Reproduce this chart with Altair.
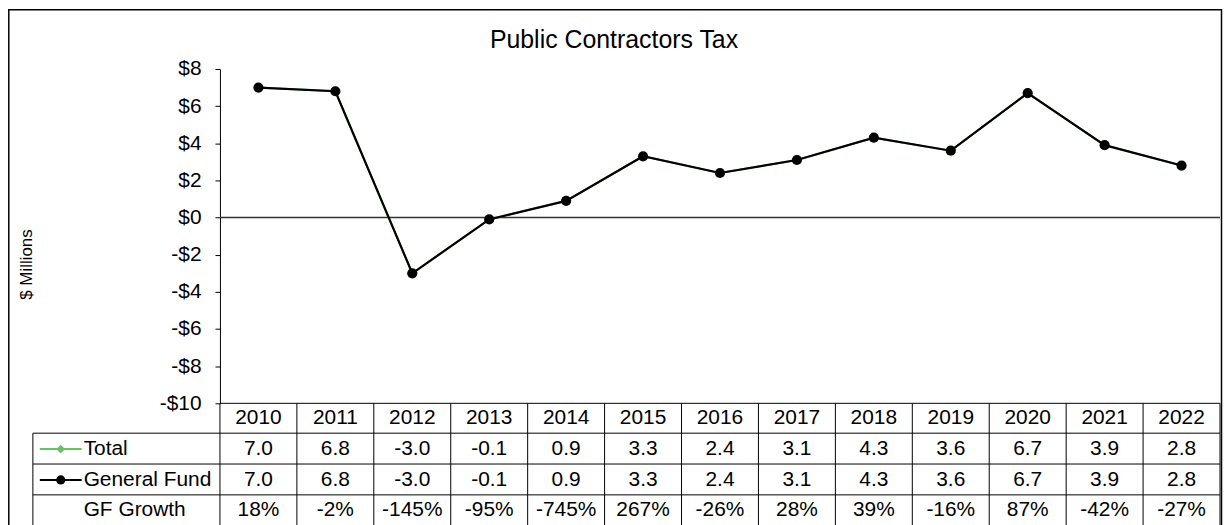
import altair as alt
import pandas as pd

# ---- data ----
years = [2010, 2011, 2012, 2013, 2014, 2015, 2016, 2017, 2018, 2019, 2020, 2021, 2022]
total = [7.0, 6.8, -3.0, -0.1, 0.9, 3.3, 2.4, 3.1, 4.3, 3.6, 6.7, 3.9, 2.8]
general_fund = [7.0, 6.8, -3.0, -0.1, 0.9, 3.3, 2.4, 3.1, 4.3, 3.6, 6.7, 3.9, 2.8]
gf_growth = ["18%", "-2%", "-145%", "-95%", "-745%", "267%", "-26%", "28%",
             "39%", "-16%", "87%", "-42%", "-27%"]
row_labels = ["Total", "General Fund", "GF Growth"]
y_ticks = [-10, -8, -6, -4, -2, 0, 2, 4, 6, 8]
chart_title = "Public Contractors Tax"

FONT = "Liberation Sans"
GREEN = "#6cbf6a"
FS = 21
W, H = 1005, 336

df = pd.DataFrame({
    "idx": list(range(len(years))),
    "year": [str(y) for y in years],
    "total": total,
    "gf": general_fund,
    "total_txt": [f"{v:.1f}" for v in total],
    "gf_txt": [f"{v:.1f}" for v in general_fund],
    "growth": gf_growth,
})
bounds = pd.DataFrame({"b": [i - 0.5 for i in range(len(years) + 1)]})
one = pd.DataFrame({"k": [0]})

xs = alt.Scale(domain=[-0.5, len(years) - 0.5], nice=False, zero=False)
ys = alt.Scale(domain=[-10, 8], nice=False, zero=False)
X = alt.X("idx:Q", scale=xs, axis=None)

base = alt.Chart(df)

yaxis = alt.Axis(
    values=y_ticks,
    labelExpr="datum.value < 0 ? '-$' + abs(datum.value) : '$' + datum.value",
    labelOverlap=False,
    grid=False, ticks=True, tickSize=5, tickColor="black", domainColor="black",
    labelFont=FONT, labelFontSize=FS, labelColor="black", labelPadding=14,
    title="$ Millions", titleFont=FONT, titleFontSize=17, titleFontWeight="normal",
    titleColor="black", titleX=-194, titleY=196, titleAngle=270,
    titleAlign="center", titleBaseline="middle",
)

zero_df = pd.DataFrame({"z": [0]})
zero_line = alt.Chart(zero_df).mark_rule(color="#333333", strokeWidth=1.5).encode(
    y=alt.Y("z:Q", scale=ys, axis=yaxis), x=alt.value(0), x2=alt.value(W))

total_line = base.mark_line(color=GREEN, strokeWidth=2).encode(
    x=X, y=alt.Y("total:Q", scale=ys, axis=yaxis))
total_pts = base.mark_point(shape="diamond", filled=True, color=GREEN, size=50, opacity=1).encode(
    x=X, y=alt.Y("total:Q", scale=ys, axis=yaxis))
gf_line = base.mark_line(color="black", strokeWidth=2.2).encode(
    x=X, y=alt.Y("gf:Q", scale=ys, axis=yaxis))
gf_pts = base.mark_circle(color="black", size=105, opacity=1).encode(
    x=X, y=alt.Y("gf:Q", scale=ys, axis=yaxis))

# ---- data table below the plot ----
BOTTOM = 460
vlines = alt.Chart(bounds).mark_rule(color="black", strokeWidth=1).encode(
    x=alt.X("b:Q", scale=xs, axis=None), y=alt.value(H), y2=alt.value(BOTTOM))
left_col = alt.Chart(one).mark_rule(color="black", strokeWidth=1).encode(
    x=alt.value(-188), y=alt.value(366), y2=alt.value(BOTTOM))
hl_top = alt.Chart(one).mark_rule(color="black", strokeWidth=1).encode(
    x=alt.value(0), x2=alt.value(W), y=alt.value(H))
hlines = [
    alt.Chart(one).mark_rule(color="black", strokeWidth=1).encode(
        x=alt.value(-188), x2=alt.value(W), y=alt.value(yy))
    for yy in (366, 397, 428)
]

def row_text(field, ypix):
    return base.mark_text(font=FONT, fontSize=FS, color="black", baseline="middle").encode(
        x=X, y=alt.value(ypix), text=f"{field}:N")

t_year = row_text("year", 351)
t_total = row_text("total_txt", 382)
t_gf = row_text("gf_txt", 413)
t_growth = row_text("growth", 443.5)

labels = [
    alt.Chart(pd.DataFrame({"label": [lbl]})).mark_text(
        font=FONT, fontSize=FS, color="black", align="left", baseline="middle").encode(
        x=alt.value(-137), y=alt.value(yp), text="label:N")
    for lbl, yp in zip(row_labels, [382, 413, 443.5])
]

key_total_line = alt.Chart(one).mark_rule(color=GREEN, strokeWidth=2).encode(
    x=alt.value(-181), x2=alt.value(-139), y=alt.value(382))
key_total_pt = alt.Chart(one).mark_point(shape="diamond", filled=True, color=GREEN,
                                         size=75, opacity=1).encode(
    x=alt.value(-160), y=alt.value(382))
key_gf_line = alt.Chart(one).mark_rule(color="black", strokeWidth=2).encode(
    x=alt.value(-181), x2=alt.value(-139), y=alt.value(413))
key_gf_pt = alt.Chart(one).mark_circle(color="black", size=85, opacity=1).encode(
    x=alt.value(-160), y=alt.value(413))

border = alt.Chart(one).mark_rect(fill="white", fillOpacity=0, stroke="black",
                                  strokeWidth=1.5).encode(
    x=alt.value(-212.2), x2=alt.value(1006.5), y=alt.value(-59.5), y2=alt.value(470))

title_text = alt.Chart(pd.DataFrame({"t": [chart_title]})).mark_text(
    font=FONT, fontSize=25, color="black", align="center", baseline="alphabetic").encode(
    x=alt.value(396), y=alt.value(-21.5), text="t:N")

chart = alt.layer(
    border, title_text, zero_line, vlines, left_col, hl_top, *hlines,
    t_year, t_total, t_gf, t_growth, *labels,
    key_total_line, key_total_pt, key_gf_line, key_gf_pt,
    total_line, total_pts, gf_line, gf_pts,
).properties(
    width=W, height=H,
    autosize=alt.AutoSizeParams(type="none"),
    padding={"left": 213, "top": 60, "right": 3, "bottom": 121},
).configure_view(strokeWidth=0).configure_axis(labelOverlap=False)

chart.save("out.html", embed_options={"renderer": "svg", "actions": False})
